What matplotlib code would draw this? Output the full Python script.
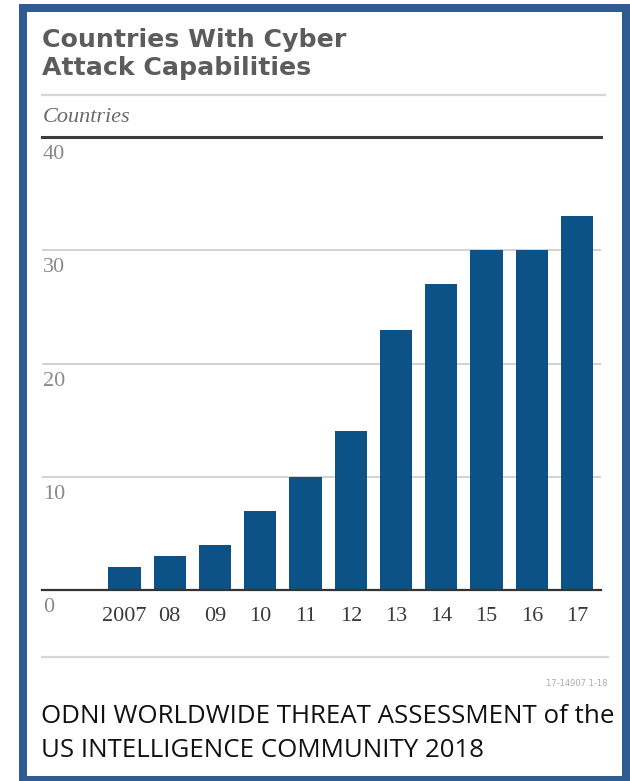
import matplotlib
matplotlib.use("Agg")
import matplotlib.pyplot as plt
import matplotlib.transforms as mtransforms
from matplotlib.lines import Line2D
from matplotlib.patches import Rectangle

# ---- data ----
years = ["2007", "08", "09", "10", "11", "12", "13", "14", "15", "16", "17"]
countries = [2, 3, 4, 7, 10, 14, 23, 27, 30, 30, 33]
yticks = [0, 10, 20, 30, 40]
title_lines = ["Countries With Cyber", "Attack Capabilities"]
unit_label = "Countries"
code_label = "17-14907 1-18"
caption_lines = ["ODNI WORLDWIDE THREAT ASSESSMENT of the",
                 "US INTELLIGENCE COMMUNITY 2018"]

W, H = 630, 781
fig = plt.figure(figsize=(W / 100, H / 100), dpi=100)
fig.patch.set_facecolor("white")


def fx(x):
    return x / W


def fy(y):
    return 1 - y / H


bar_color = "#0c5286"
border_color = "#2f5b91"

# border
fig.add_artist(Rectangle((fx(22.5), fy(779.5)), fx(626) - fx(22.5), fy(7.5) - fy(779.5),
                         transform=fig.transFigure, fill=False,
                         edgecolor=border_color, linewidth=8 * 0.72))

# axes
ax_left, ax_right = 42, 601
ax_top, ax_bottom = 137, 590
ax = fig.add_axes([fx(ax_left), fy(ax_bottom), fx(ax_right) - fx(ax_left), fy(ax_top) - fy(ax_bottom)])
ax.set_facecolor("none")
x = list(range(len(years)))
ax.bar(x, countries, width=0.71, color=bar_color, zorder=3)
ax.set_xlim(-1.823, 10.53)
ax.set_ylim(0, 40)
for s in ax.spines.values():
    s.set_visible(False)
ax.set_yticks([])
for v in yticks[1:-1]:
    ax.axhline(v, color="#cfcfcf", lw=1.3, zorder=1)
ax.axhline(40, color="#3c3c3c", lw=2.2, zorder=2, clip_on=False)
ax.axhline(0, color="#333333", lw=1.6, zorder=4, clip_on=False)

serif = ["Liberation Serif", "DejaVu Serif"]
ax.set_xticks(x, years, fontfamily=serif, fontsize=16, color="#3a3a3a")
ax.tick_params(axis="x", length=0, pad=12)

ytrans = mtransforms.blended_transform_factory(ax.transAxes, ax.transData)
for v in yticks:
    ax.text(0.0, v, str(v), transform=ytrans + mtransforms.ScaledTranslation(1 / 100, -8 / 100, fig.dpi_scale_trans),
            ha="left", va="top", fontfamily=serif, fontsize=16, color="#8a8a8a")

# title
t1 = fig.text(fx(42), fy(47), title_lines[0], fontfamily="DejaVu Sans", fontweight="bold",
              fontsize=17, color="#5c5c5c", ha="left", va="baseline")
t2 = fig.text(fx(42), fy(75), title_lines[1], fontfamily="DejaVu Sans", fontweight="bold",
              fontsize=17, color="#5c5c5c", ha="left", va="baseline")

# unit label
u = fig.text(fx(43), fy(118), unit_label, fontfamily=serif, style="italic", fontsize=12,
             color="#6a6a6a", ha="left", va="center")

# separator lines
fig.add_artist(Line2D([fx(42), fx(605)], [fy(95), fy(95)], transform=fig.transFigure,
                      color="#d6d6d6", lw=1.6))
fig.add_artist(Line2D([fx(42), fx(608)], [fy(657), fy(657)], transform=fig.transFigure,
                      color="#d6d6d6", lw=1.6))

# code label
fig.text(fx(608), fy(684), code_label, fontfamily="DejaVu Sans", fontsize=6,
         color="#aaaaaa", ha="right", va="center")

# caption
c1 = fig.text(fx(41), fy(723), caption_lines[0], fontfamily="Open Sans", fontsize=15,
              color="#111111", ha="left", va="baseline")
c2 = fig.text(fx(41), fy(757), caption_lines[1], fontfamily="Open Sans", fontsize=15,
              color="#111111", ha="left", va="baseline")

# fit text widths
r = fig.canvas.get_renderer()


def fit(t, target, others=()):
    w = t.get_window_extent(r).width
    s = t.get_fontsize() * target / w
    t.set_fontsize(s)
    for o in others:
        o.set_fontsize(s)


fit(t1, 305, [t2])
fit(c1, 572, [c2])
fit(u, 88)

fig.savefig("out.png", dpi=100, facecolor="white")
